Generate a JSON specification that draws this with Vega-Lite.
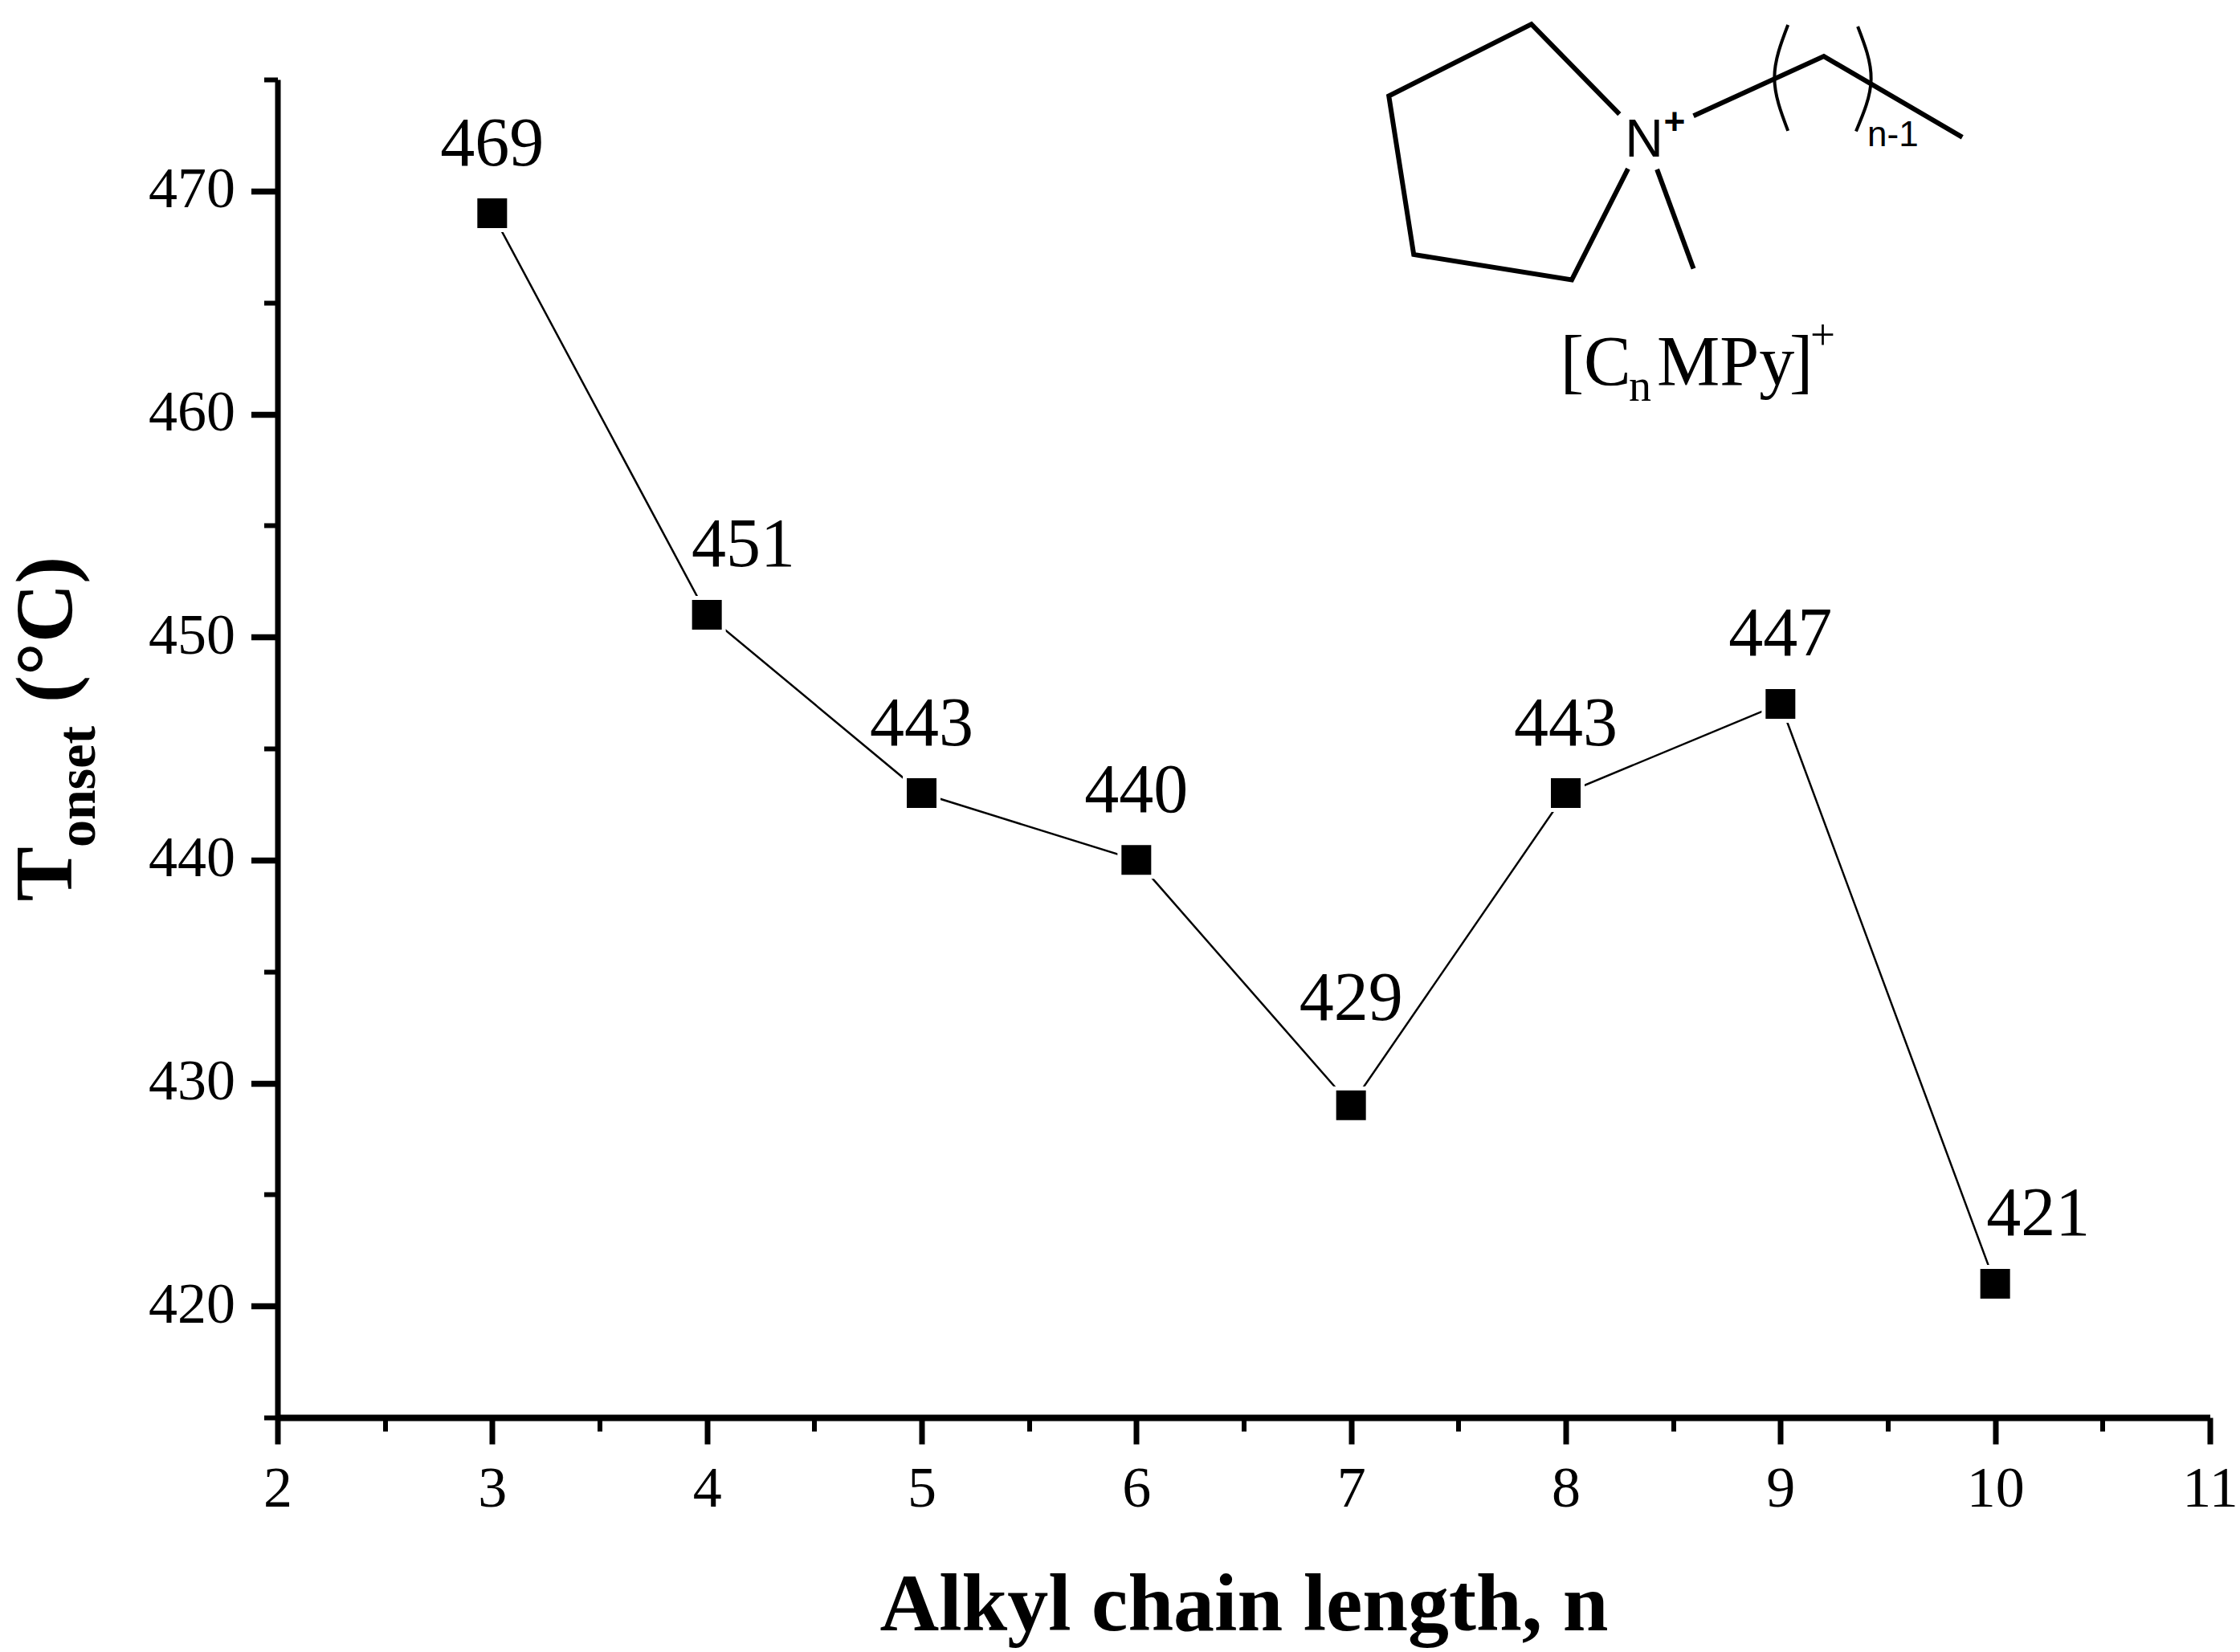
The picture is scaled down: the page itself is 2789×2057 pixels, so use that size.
{
"$schema":"https://vega.github.io/schema/vega-lite/v6.json",
"width":2406,"height":1666,
"autosize":"none",
"padding":{"left":345.5,"top":99,"right":37.5,"bottom":292},
"background":"white",
"config":{"view":{"stroke":null}},
"datasets":{
"pts":[{"n":3,"t":469,"lx":3,"ly":469},{"n":4,"t":451,"lx":4.17,"ly":451},{"n":5,"t":443,"lx":5,"ly":443},{"n":6,"t":440,"lx":6,"ly":440},{"n":7,"t":429,"lx":7,"ly":430.67},{"n":8,"t":443,"lx":8,"ly":443},{"n":9,"t":447,"lx":9,"ly":447},{"n":10,"t":421,"lx":10.2,"ly":421}],
"bonds":[
{"b":"ring","o":0,"x":8.25,"y":473.45},{"b":"ring","o":1,"x":7.84,"y":477.48},{"b":"ring","o":2,"x":7.176,"y":474.26},{"b":"ring","o":3,"x":7.292,"y":467.15},{"b":"ring","o":4,"x":8.028,"y":466.02},{"b":"ring","o":5,"x":8.29,"y":471.0},
{"b":"me","o":0,"x":8.425,"y":470.97},{"b":"me","o":1,"x":8.595,"y":466.52},
{"b":"chain","o":0,"x":8.595,"y":473.37},{"b":"chain","o":1,"x":9.202,"y":476.04},{"b":"chain","o":2,"x":9.847,"y":472.41}],
"parens":[
{"b":"l","o":0,"x":9.035,"y":477.45},{"b":"l","o":1,"x":8.972,"y":475.08},{"b":"l","o":2,"x":9.035,"y":472.7},
{"b":"r","o":0,"x":9.36,"y":477.38},{"b":"r","o":1,"x":9.422,"y":475.02},{"b":"r","o":2,"x":9.352,"y":472.68}]
},
"layer":[
{"data":{"name":"pts"},"mark":{"type":"line","color":"black","strokeWidth":2.5},
 "encoding":{"x":{"field":"n","type":"quantitative","scale":{"domain":[2,11]},
   "axis":{"orient":"bottom","values":[2,3,4,5,6,7,8,9,10,11],"format":"d","grid":false,"domainWidth":8,"domainColor":"black","tickWidth":7,"tickSize":33,"tickColor":"black","labelFont":"Liberation Serif","labelFontSize":72,"labelColor":"black","labelPadding":20,"labelFlush":false,"labelOverlap":false,"title":"Alkyl chain length, n","titleFont":"Liberation Serif","titleFontWeight":"bold","titleFontSize":102,"titleColor":"black","titlePadding":59}},
  "y":{"field":"t","type":"quantitative","scale":{"domain":[415,475]},
   "axis":{"orient":"left","values":[420,430,440,450,460,470],"format":"d","grid":false,"domainWidth":7,"domainColor":"black","tickWidth":7.5,"tickSize":33,"tickColor":"black","labelFont":"Liberation Serif","labelFontSize":72,"labelColor":"black","labelPadding":20,"labelOffset":-2,"labelFlush":false,"labelOverlap":false,"title":null}}}},
{"data":{"name":"pts"},"mark":{"type":"point","shape":"square","filled":true,"color":"white","size":2209,"opacity":1},
 "encoding":{"x":{"field":"n","type":"quantitative",
   "axis":{"orient":"bottom","values":[2.5,3.5,4.5,5.5,6.5,7.5,8.5,9.5,10.5],"grid":false,"domain":false,"labels":false,"tickWidth":6,"tickSize":17,"tickColor":"black","title":null}},
  "y":{"field":"t","type":"quantitative",
   "axis":{"orient":"left","values":[415,425,435,445,455,465,475],"grid":false,"domain":false,"labels":false,"tickWidth":6,"tickSize":17,"tickColor":"black","title":null}}}},
{"data":{"name":"pts"},"mark":{"type":"point","shape":"square","filled":true,"color":"black","size":1369,"opacity":1},
 "encoding":{"x":{"field":"n","type":"quantitative","axis":null},"y":{"field":"t","type":"quantitative","axis":null}}},
{"data":{"name":"pts"},"mark":{"type":"text","font":"Liberation Serif","fontSize":86,"color":"black","align":"center","baseline":"alphabetic","dy":-60},
 "encoding":{"x":{"field":"lx","type":"quantitative","axis":null},"y":{"field":"ly","type":"quantitative","axis":null},"text":{"field":"t","type":"quantitative","format":"d"}}},
{"data":{"name":"bonds"},"mark":{"type":"line","color":"black","strokeWidth":6,"strokeJoin":"miter","strokeCap":"butt","clip":false},
 "encoding":{"x":{"field":"x","type":"quantitative","axis":null},"y":{"field":"y","type":"quantitative","axis":null},"detail":{"field":"b"},"order":{"field":"o"}}},
{"data":{"name":"parens"},"mark":{"type":"line","color":"black","strokeWidth":4,"interpolate":"natural","clip":false},
 "encoding":{"x":{"field":"x","type":"quantitative","axis":null},"y":{"field":"y","type":"quantitative","axis":null},"detail":{"field":"b"},"order":{"field":"o"}}},
{"data":{"values":[{"x":8.365,"y":471.54,"s":"N"}]},"mark":{"type":"text","font":"Liberation Sans","fontSize":66,"color":"black","align":"center","baseline":"alphabetic"},
 "encoding":{"x":{"field":"x","type":"quantitative","axis":null},"y":{"field":"y","type":"quantitative","axis":null},"text":{"field":"s"}}},
{"data":{"values":[{"x":8.507,"y":472.55,"s":"+"}]},"mark":{"type":"text","font":"Liberation Sans","fontSize":46,"fontWeight":"bold","color":"black","align":"center","baseline":"alphabetic"},
 "encoding":{"x":{"field":"x","type":"quantitative","axis":null},"y":{"field":"y","type":"quantitative","axis":null},"text":{"field":"s"}}},
{"data":{"values":[{"x":9.405,"y":472.0,"s":"n-1"}]},"mark":{"type":"text","font":"Liberation Sans","fontSize":44,"color":"black","align":"left","baseline":"alphabetic"},
 "encoding":{"x":{"field":"x","type":"quantitative","axis":null},"y":{"field":"y","type":"quantitative","axis":null},"text":{"field":"s"}}},
{"data":{"values":[{"x":7.975,"y":461.3,"s":"[C"},{"x":8.425,"y":461.3,"s":"MPy"},{"x":9.042,"y":461.3,"s":"]"}]},"mark":{"type":"text","font":"Liberation Serif","fontSize":88,"color":"black","align":"left","baseline":"alphabetic"},
 "encoding":{"x":{"field":"x","type":"quantitative","axis":null},"y":{"field":"y","type":"quantitative","axis":null},"text":{"field":"s"}}},
{"data":{"values":[{"x":8.294,"y":460.6,"s":"n"}]},"mark":{"type":"text","font":"Liberation Serif","fontSize":56,"color":"black","align":"left","baseline":"alphabetic"},
 "encoding":{"x":{"field":"x","type":"quantitative","axis":null},"y":{"field":"y","type":"quantitative","axis":null},"text":{"field":"s"}}},
{"data":{"values":[{"x":9.139,"y":462.89,"s":"+"}]},"mark":{"type":"text","font":"Liberation Serif","fontSize":55,"color":"black","align":"left","baseline":"alphabetic"},
 "encoding":{"x":{"field":"x","type":"quantitative","axis":null},"y":{"field":"y","type":"quantitative","axis":null},"text":{"field":"s"}}},
{"data":{"values":[{"x":1.0405,"y":438.15,"s":"T"},{"x":1.044,"y":447.05,"s":"(°C)"}]},"mark":{"type":"text","font":"Liberation Serif","fontWeight":"bold","fontSize":102,"angle":270,"color":"black","align":"left","baseline":"alphabetic","clip":false},
 "encoding":{"x":{"field":"x","type":"quantitative","axis":null},"y":{"field":"y","type":"quantitative","axis":null},"text":{"field":"s"}}},
{"data":{"values":[{"x":1.149,"y":440.57,"s":"onset"}]},"mark":{"type":"text","font":"Liberation Serif","fontWeight":"bold","fontSize":68,"angle":270,"color":"black","align":"left","baseline":"alphabetic","clip":false},
 "encoding":{"x":{"field":"x","type":"quantitative","axis":null},"y":{"field":"y","type":"quantitative","axis":null},"text":{"field":"s"}}}
],
"resolve":{"axis":{"x":"independent","y":"independent"}}
}
